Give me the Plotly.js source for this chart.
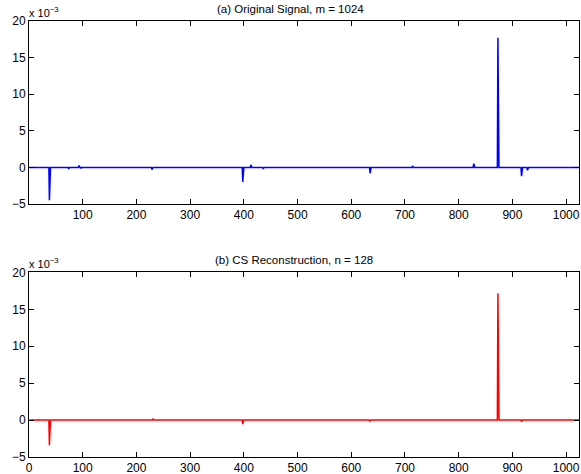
<!DOCTYPE html>
<html>
<head>
<meta charset="utf-8">
<script src="https://cdn.plot.ly/plotly-3.0.1.min.js"></script>
<style>html,body{margin:0;padding:0;background:#fff;}#chart{width:581px;height:474px;}</style>
</head>
<body>
<div id="chart"></div>
<script>
// Signal length
const signalLength = 1024;
// (a) Original signal: sparse nonzero entries (values in units of 1e-3)
const origSpikeIdx = [38, 74, 93, 97, 229, 398, 413, 436, 635, 714, 828, 873, 917, 928];
const origSpikeVal = [-4.5, -0.15, 0.25, -0.15, -0.3, -2.0, 0.35, -0.15, -0.8, 0.2, 0.5, 17.7, -1.2, -0.4];
// (b) CS reconstruction: nonzero entries (values in units of 1e-3)
const recSpikeIdx = [38, 231, 398, 635, 873, 917];
const recSpikeVal = [-3.4, 0.15, -0.55, -0.15, 17.2, -0.15];
// Tick labels
const yTicks = [-5, 0, 5, 10, 15, 20];
const xTicksTop = [100, 200, 300, 400, 500, 600, 700, 800, 900, 1000];
const xTicksBottom = [0, 100, 200, 300, 400, 500, 600, 700, 800, 900, 1000];
const titleTop = "(a) Original Signal, m = 1024";
const titleBottom = "(b) CS Reconstruction, n = 128";
const exponentLabel = "x 10<sup>−3</sup>";

function buildSeries(idx, val) {
  const x = [], y = [];
  for (let i = 1; i <= signalLength; i++) { x.push(i); y.push(0); }
  idx.forEach((k, j) => { y[k - 1] = val[j]; });
  return {x, y};
}
const s1 = buildSeries(origSpikeIdx, origSpikeVal);
const s2 = buildSeries(recSpikeIdx, recSpikeVal);

const fam = "Liberation Sans, Arial, Helvetica, sans-serif";
const font = {family: fam, size: 12, color: "#000"};
const axBase = {
  showgrid: false, zeroline: false, showline: true, linecolor: "#000", linewidth: 1,
  mirror: "ticks", ticks: "inside", ticklen: 5, tickwidth: 1, tickcolor: "#000",
  tickfont: font, fixedrange: true
};

const data = [
  {x: s1.x, y: s1.y, type: "scatter", mode: "lines", line: {color: "#0000ff", width: 1.5}, xaxis: "x", yaxis: "y", hoverinfo: "skip"},
  {x: s2.x, y: s2.y, type: "scatter", mode: "lines", line: {color: "#ff0000", width: 1.5}, xaxis: "x2", yaxis: "y2", hoverinfo: "skip"}
];

const layout = {
  width: 581, height: 474,
  margin: {l: 29, r: 2, t: 21, b: 17},
  paper_bgcolor: "#fff", plot_bgcolor: "#fff",
  showlegend: false,
  font: font,
  xaxis: Object.assign({}, axBase, {domain: [0, 1], range: [0, 1024], tickvals: xTicksTop, anchor: "y"}),
  yaxis: Object.assign({}, axBase, {domain: [0.5803, 1], range: [-5, 20], tickvals: yTicks, anchor: "x"}),
  xaxis2: Object.assign({}, axBase, {domain: [0, 1], range: [0, 1024], tickvals: xTicksBottom, anchor: "y2"}),
  yaxis2: Object.assign({}, axBase, {domain: [0, 0.4232], range: [-5, 20], tickvals: yTicks, anchor: "x2"}),
  annotations: [
    {text: titleTop, xref: "paper", yref: "paper", x: 0.4755, y: 1, yshift: 12, showarrow: false, xanchor: "center", yanchor: "middle", font: {family: fam, size: 11.5, color: "#000"}},
    {text: titleBottom, xref: "paper", yref: "paper", x: 0.4823, y: 0.4232, yshift: 12, showarrow: false, xanchor: "center", yanchor: "middle", font: {family: fam, size: 11.5, color: "#000"}},
    {text: exponentLabel, xref: "paper", yref: "paper", x: 0, y: 1, xshift: -2, yshift: 9, showarrow: false, xanchor: "left", yanchor: "middle", font: {family: fam, size: 11, color: "#000"}},
    {text: exponentLabel, xref: "paper", yref: "paper", x: 0, y: 0.4232, xshift: -2, yshift: 9, showarrow: false, xanchor: "left", yanchor: "middle", font: {family: fam, size: 11, color: "#000"}}
  ]
};

Plotly.newPlot("chart", data, layout, {staticPlot: true, displayModeBar: false});
</script>
</body>
</html>
